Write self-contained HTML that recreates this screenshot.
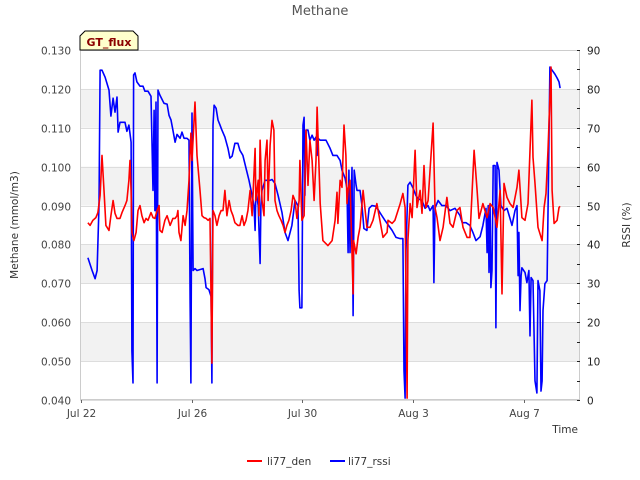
<!DOCTYPE html>
<html><head><meta charset="utf-8"><style>
body{margin:0;background:#fff;}
svg{display:block;font-family:"DejaVu Sans","Liberation Sans",sans-serif;}
</style></head><body>
<svg id="chart" width="640" height="480" viewBox="0 0 640 480">
<text x="320" y="15" text-anchor="middle" font-size="13" fill="#555">Methane</text>
<g id="bands"></g>
<g id="grid"></g>
<rect x="80.5" y="50.5" width="499" height="349" fill="none" stroke="#ccc"/>
<g id="yl"></g><g id="yr"></g><g id="xt"></g>
<g id="series"></g>
<text x="18" y="225" transform="rotate(-90 18 225)" text-anchor="middle" font-size="10.5" fill="#333">Methane (mmol/m3)</text>
<text x="630" y="225" transform="rotate(-90 630 225)" text-anchor="middle" font-size="10.5" fill="#333">RSSI (%)</text>
<text x="578" y="433" text-anchor="end" font-size="10.5" fill="#333">Time</text>
<g>
<polygon points="80,50 80,36 85,31 133,31 138,36 138,50" fill="#ffffcc" stroke="#000" stroke-width="1"/>
<text x="109" y="46" text-anchor="middle" font-size="11" font-weight="bold" fill="#8b0000">GT_flux</text>
</g>
<g>
<g><line x1="247" y1="461" x2="262" y2="461" stroke="#f00" stroke-width="2"/><text x="267" y="465" font-size="10.5" fill="#333">li77_den</text></g>
<g><line x1="330" y1="461" x2="345" y2="461" stroke="#00f" stroke-width="2"/><text x="348" y="465" font-size="10.5" fill="#333">li77_rssi</text></g>
</g>
</svg>
<script>
const yTicks=[0.040,0.050,0.060,0.070,0.080,0.090,0.100,0.110,0.120,0.130];
const y2Ticks=[0,10,20,30,40,50,60,70,80,90];
const xTickDays=[0,4,8,12,16];
const xTickLabels=["Jul 22","Jul 26","Jul 30","Aug 3","Aug 7"];
const denDays=[0.25,0.33,0.43,0.54,0.61,0.69,0.76,0.83,0.90,1.01,1.08,1.16,1.23,1.30,1.41,1.48,1.59,1.66,1.73,1.77,1.81,1.84,1.91,1.99,2.06,2.13,2.20,2.28,2.35,2.42,2.53,2.60,2.67,2.75,2.82,2.85,2.93,3.03,3.11,3.22,3.32,3.40,3.47,3.50,3.54,3.61,3.69,3.76,3.83,3.90,3.97,4.01,4.12,4.19,4.30,4.37,4.44,4.52,4.59,4.66,4.73,4.77,4.84,4.91,4.99,5.06,5.13,5.20,5.27,5.35,5.42,5.49,5.56,5.67,5.74,5.82,5.89,5.96,6.03,6.11,6.18,6.29,6.32,6.40,6.43,6.47,6.54,6.61,6.65,6.72,6.76,6.83,6.90,6.97,7.01,7.08,7.15,7.23,7.30,7.37,7.44,7.51,7.59,7.66,7.73,7.80,7.88,7.91,7.98,8.06,8.13,8.20,8.27,8.35,8.42,8.49,8.53,8.64,8.74,8.92,9.07,9.18,9.25,9.28,9.36,9.43,9.50,9.57,9.61,9.65,9.72,9.83,9.85,9.94,10.01,10.08,10.19,10.33,10.44,10.55,10.69,10.80,10.91,11.06,11.09,11.24,11.34,11.53,11.63,11.71,11.78,11.81,11.89,11.96,12.07,12.14,12.25,12.32,12.39,12.46,12.54,12.72,12.79,12.86,12.97,13.08,13.22,13.33,13.44,13.58,13.69,13.80,13.95,14.05,14.20,14.31,14.38,14.52,14.67,14.78,14.89,15.03,15.14,15.21,15.28,15.39,15.50,15.61,15.75,15.82,15.93,16.04,16.15,16.29,16.33,16.40,16.51,16.66,16.73,16.80,16.87,16.98,17.02,17.09,17.20,17.27,17.31];
const denValues=[.0856,.0849,.0862,.0869,.0882,.0926,.1029,.0939,.0849,.0836,.0874,.0913,.0880,.0867,.0867,.0882,.0900,.0913,.0965,.1016,.0939,.0831,.0810,.0831,.0887,.0900,.0874,.0856,.0867,.0862,.0882,.0869,.0867,.0887,.0900,.0836,.0831,.0862,.0874,.0849,.0867,.0867,.0874,.0887,.0831,.0810,.0874,.0849,.0887,.0965,.1086,.1016,.1166,.1029,.0939,.0874,.0869,.0867,.0862,.0867,.0495,.0887,.0874,.0849,.0874,.0887,.0887,.0939,.0874,.0913,.0887,.0874,.0856,.0849,.0849,.0874,.0849,.0862,.0887,.0939,.0874,.1047,.0913,.0965,.0874,.1068,.0913,.0874,.1016,.1068,.0913,.1055,.1119,.1094,.0913,.0887,.0874,.0862,.0849,.0831,.0849,.0862,.0887,.0926,.0913,.0867,.0913,.1016,.0862,.0874,.1094,.0952,.1068,.1016,.0913,.1016,.1153,.0905,.0810,.0797,.0810,.0862,.0934,.0854,.0965,.0947,.1107,.1029,.0905,.0939,.0965,.0673,.0810,.0776,.0818,.0844,.0939,.0844,.0844,.0862,.0905,.0862,.0818,.0831,.0862,.0854,.0862,.0905,.0931,.0895,.0405,.0810,.0905,.0869,.1042,.0895,.0939,.0880,.1003,.0895,.0913,.1112,.0895,.0869,.0810,.0844,.0921,.0854,.0844,.0887,.0895,.0844,.0818,.0818,.1042,.0939,.0867,.0905,.0869,.0905,.0895,.0844,.0939,.0673,.0957,.0921,.0905,.0895,.0947,.0991,.0869,.0862,.0905,.1171,.1024,.0957,.0844,.0810,.0895,.0931,.1042,.1256,.0939,.0854,.0862,.0895,.0898];
const rssiDays=[0.25,0.40,0.51,0.58,0.65,0.69,0.76,0.87,1.01,1.08,1.16,1.23,1.30,1.34,1.41,1.59,1.66,1.73,1.81,1.84,1.88,1.90,1.95,2.02,2.13,2.24,2.31,2.42,2.53,2.60,2.64,2.67,2.71,2.75,2.78,2.85,3.00,3.11,3.18,3.25,3.32,3.40,3.47,3.58,3.65,3.72,3.83,3.90,3.94,3.97,4.01,4.05,4.12,4.19,4.41,4.48,4.52,4.62,4.70,4.73,4.77,4.81,4.88,4.95,5.02,5.09,5.20,5.31,5.38,5.46,5.56,5.67,5.74,5.85,5.96,6.07,6.18,6.25,6.29,6.32,6.40,6.47,6.50,6.54,6.65,6.83,6.90,7.01,7.12,7.26,7.37,7.48,7.62,7.73,7.84,7.88,7.91,7.98,8.02,8.06,8.09,8.13,8.20,8.27,8.35,8.42,8.49,8.53,8.56,8.64,8.85,9.00,9.10,9.25,9.36,9.43,9.54,9.61,9.65,9.68,9.72,9.79,9.83,9.87,9.94,9.97,10.08,10.15,10.22,10.33,10.41,10.51,10.66,10.80,10.98,11.24,11.38,11.53,11.63,11.67,11.71,11.74,11.81,11.89,12.00,12.10,12.18,12.32,12.43,12.54,12.61,12.72,12.75,12.79,12.90,13.04,13.19,13.33,13.51,13.69,13.77,13.91,14.05,14.16,14.27,14.42,14.52,14.63,14.67,14.71,14.74,14.78,14.81,14.85,14.89,14.96,14.99,15.03,15.10,15.17,15.28,15.39,15.50,15.57,15.68,15.75,15.79,15.82,15.86,15.90,15.93,16.04,16.11,16.18,16.22,16.26,16.33,16.40,16.47,16.51,16.58,16.62,16.66,16.69,16.76,16.84,16.91,16.94,17.02,17.12,17.20,17.27,17.31];
const rssiValues=[36.6,33.3,31.2,33.3,50.0,84.8,84.8,83.0,79.7,73.0,77.6,74.0,77.9,68.9,71.4,71.4,69.1,70.7,66.3,12.6,4.4,83.6,84.1,81.8,80.7,80.7,79.4,79.4,78.1,53.9,74.5,48.7,76.6,4.4,79.7,78.4,76.3,76.1,73.2,72.0,69.4,66.3,68.3,67.3,68.9,67.3,67.3,66.8,25.5,4.4,73.8,33.3,33.8,33.3,33.8,31.2,28.9,28.4,26.6,4.4,70.7,75.8,75.0,72.0,70.7,69.4,67.6,64.7,62.2,62.7,66.0,66.0,64.2,62.9,59.6,56.5,52.6,50.0,43.6,53.9,50.0,35.1,50.0,53.9,56.5,56.5,56.7,55.7,52.6,48.2,43.1,41.0,44.9,51.3,50.0,28.1,23.7,23.7,70.7,72.7,52.6,69.4,69.4,66.8,68.1,66.8,67.6,62.9,67.3,66.8,66.8,64.7,62.9,62.9,61.6,59.1,57.0,54.4,37.9,59.1,37.9,59.8,21.7,59.1,55.2,53.9,53.9,50.0,44.1,43.6,49.3,50.0,49.8,48.2,46.2,43.6,41.8,41.5,41.5,7.5,0.5,38.4,55.2,56.0,54.4,52.6,51.8,51.3,49.3,50.0,48.7,50.0,30.2,49.3,51.3,50.0,50.0,48.7,49.3,47.5,45.6,45.6,44.9,43.1,41.0,42.0,44.9,49.3,37.9,50.0,32.8,50.0,28.9,33.3,60.3,60.3,18.6,61.1,59.1,50.0,48.7,49.3,46.7,44.9,48.7,50.0,32.0,43.1,23.0,32.0,34.0,32.8,30.2,33.3,16.5,31.5,30.7,4.9,1.8,30.7,28.1,2.3,4.9,23.0,29.9,30.7,69.4,85.6,84.8,83.8,82.8,81.8,80.2];

const NS="http://www.w3.org/2000/svg";
const X0=80,X1=580,Y0=50,Y1=400;
const dayW=27.68;
function xs(d){return X0+1+d*dayW;}
function ys(v){return Y1-(v-0.04)/0.09*(Y1-Y0);}
function ys2(v){return Y1-v/90*(Y1-Y0);}
function mk(tag,attrs,parent){const e=document.createElementNS(NS,tag);for(const k in attrs)e.setAttribute(k,attrs[k]);parent.appendChild(e);return e;}
const bands=document.getElementById('bands'),grid=document.getElementById('grid');
for(let i=0;i<yTicks.length-1;i++){
  if(i%2===1){const r=mk('rect',{x:X0,y:ys(yTicks[i+1]),width:X1-X0,height:ys(yTicks[i])-ys(yTicks[i+1]),fill:'#f2f2f2'},bands);
  
  }
}
const yl=document.getElementById('yl');
yTicks.forEach(v=>{const y=Math.round(ys(v))+0.5;
  const l=mk('line',{x1:X0,x2:X1,y1:y,y2:y,stroke:'#ddd'},grid);
  
  
  const t=mk('text',{x:71,y:y+4,'text-anchor':'end','font-size':10.5,fill:'#444'},yl);t.textContent=v.toFixed(3);
  
  
});
const yr=document.getElementById('yr');
y2Ticks.forEach(v=>{const y=Math.round(ys2(v))+0.5;
  const t=mk('text',{x:587,y:y+4,'font-size':10.5,fill:'#222'},yr);t.textContent=v;
  
  
  mk('line',{x1:X1-3,x2:X1,y1:y,y2:y,stroke:'#222'},yr);
  if(v<90){const y5=Math.round(ys2(v+5))+0.5;mk('line',{x1:X1-3,x2:X1,y1:y5,y2:y5,stroke:'#222'},yr);}
});
const xt=document.getElementById('xt');
xTickDays.forEach((d,i)=>{const x=Math.round(xs(d))+0.5;
  mk('line',{x1:x,x2:x,y1:Y1,y2:Y1+3,stroke:'#666'},xt);
  const t=mk('text',{x:x,y:417,'text-anchor':'middle','font-size':10.5,fill:'#444'},xt);t.textContent=xTickLabels[i];
  
  
});
const sg=document.getElementById('series');
const pb=mk('polyline',{points:rssiDays.map((d,i)=>xs(d).toFixed(1)+','+ys2(rssiValues[i]).toFixed(1)).join(' '),fill:'none',stroke:'#0000ff','stroke-width':1.6,'stroke-linejoin':'round'},sg);


const pr=mk('polyline',{points:denDays.map((d,i)=>xs(d).toFixed(1)+','+ys(denValues[i]).toFixed(1)).join(' '),fill:'none',stroke:'#ff0000','stroke-width':1.6,'stroke-linejoin':'round'},sg);


</script>
</body></html>
